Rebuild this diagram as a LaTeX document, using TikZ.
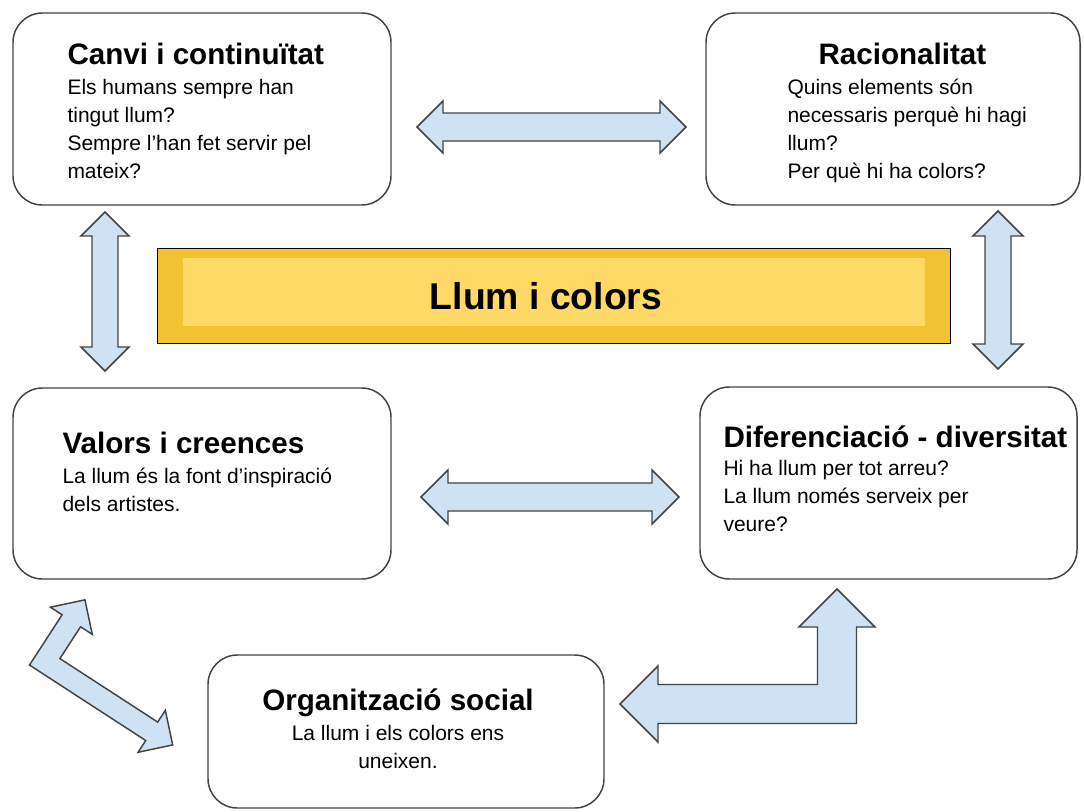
\documentclass[tikz,border=0pt]{standalone}
\usepackage{fontspec}
\setmainfont{Liberation Sans}

\definecolor{arrowblue}{RGB}{207,226,243}
\definecolor{gold}{RGB}{241,194,50}
\definecolor{lightgold}{RGB}{255,217,102}
\definecolor{edge}{RGB}{67,67,67}

\newcommand{\ttl}[1]{{\fontsize{22.2}{26}\selectfont\bfseries #1}}

\tikzset{every picture/.style={line width=0.75pt}}
\tikzset{
  card/.style={draw=edge, line width=1.1pt, rounded corners=22pt, fill=white, inner sep=0pt},
  txt/.style={inner sep=0pt, align=left, font=\fontsize{15.75}{21}\selectfont},
  blockarrow/.style={fill=arrowblue, draw=edge, line width=1.1pt, line join=miter}
}

\begin{document}
\begin{tikzpicture}[x=0.75pt,y=0.75pt,yscale=-1,xscale=1]
\useasboundingbox (0,0) rectangle (1084,811);

%Shape: Rounded Rect [canvi]
\node[card, minimum width=283.5pt, minimum height=144pt] (canvi) at (202,109) {};
%Shape: Rounded Rect [racionalitat]
\node[card, minimum width=280.5pt, minimum height=144pt] (rac) at (893,109) {};
%Shape: Rounded Rect [valors]
\node[card, minimum width=283.5pt, minimum height=143.25pt] (valors) at (202,483.5) {};
%Shape: Rounded Rect [diferenciacio]
\node[card, minimum width=282.75pt, minimum height=144pt] (dif) at (888.5,483) {};
%Shape: Rounded Rect [organitzacio]
\node[card, minimum width=297pt, minimum height=114.75pt] (org) at (406,731.5) {};

%Shape: Rectangle [central]
\node[draw=black, line width=0.75pt, fill=gold, minimum width=594.75pt, minimum height=71.25pt] (llumbox) at (553.5,295.5) {};
\fill[lightgold] (183,258) rectangle (925,326);
% Text Node
\node[font=\fontsize{28}{32}\selectfont\bfseries] (llum) at (546,296) {Llum i colors};

%Shape: Double Arrow
\draw[blockarrow] (417,127) -- (443,101) -- (443,113) -- (660,113) -- (660,101) -- (686,127) -- (660,153) -- (660,141) -- (443,141) -- (443,153) -- cycle;
%Shape: Double Arrow
\draw[blockarrow] (421,497) -- (448,470) -- (448,483) -- (652,483) -- (652,470) -- (679,497) -- (652,524) -- (652,511) -- (448,511) -- (448,524) -- cycle;
%Shape: Double Arrow
\draw[blockarrow] (105,212) -- (129,236) -- (118,236) -- (118,347) -- (129,347) -- (105,371) -- (81,347) -- (92,347) -- (92,236) -- (81,236) -- cycle;
%Shape: Double Arrow
\draw[blockarrow] (998,211) -- (1023,236) -- (1011,236) -- (1011,344) -- (1023,344) -- (998,369) -- (973,344) -- (985,344) -- (985,236) -- (973,236) -- cycle;
%Shape: Bent Double Arrow
\draw[blockarrow] (620,704) -- (658,666) -- (658,684.5) -- (817.5,684.5) -- (817.5,627) -- (799,627) -- (837,589) -- (875,627) -- (856.5,627) -- (856.5,723.5) -- (658,723.5) -- (658,742) -- cycle;
%Shape: Bent Double Arrow
\begin{scope}[shift={(44.7,661.8)}, rotate=33]
\draw[blockarrow] (-11,11) -- (127.6,11) -- (127.6,25) -- (152.6,0) -- (127.6,-25) -- (127.6,-11) -- (11,-11) -- (11,-48.9) -- (25,-48.9) -- (0,-73.9) -- (-25,-48.9) -- (-11,-48.9) -- cycle;
\end{scope}

% Text Node (anchored at the baseline of the last line)
\node[txt, anchor=base west] (canvitext) at (67,178) {\ttl{Canvi i continuïtat}\\[1pt]
Els humans sempre han\\
tingut llum?\\
Sempre l’han fet servir pel\\
mateix?};
% Text Node
\node[txt, anchor=base west] (ractext) at (787,178) {\hspace*{23.25pt}\ttl{Racionalitat}\\[1pt]
Quins elements són\\
necessaris perquè hi hagi\\
llum?\\
Per què hi ha colors?};
% Text Node
\node[txt, anchor=base west] (valorstext) at (62,511) {\ttl{Valors i creences}\\[1pt]
La llum és la font d’inspiració\\
dels artistes.};
% Text Node
\node[txt, anchor=base west] (diftext) at (723,531) {\ttl{Diferenciació - diversitat}\\
Hi ha llum per tot arreu?\\
La llum només serveix per\\
veure?};
% Text Node
\node[txt, align=center, anchor=base] (orgtext) at (398,768) {\ttl{Organització social}\\[1pt]
La llum i els colors ens\\
uneixen.};

\end{tikzpicture}
\end{document}
